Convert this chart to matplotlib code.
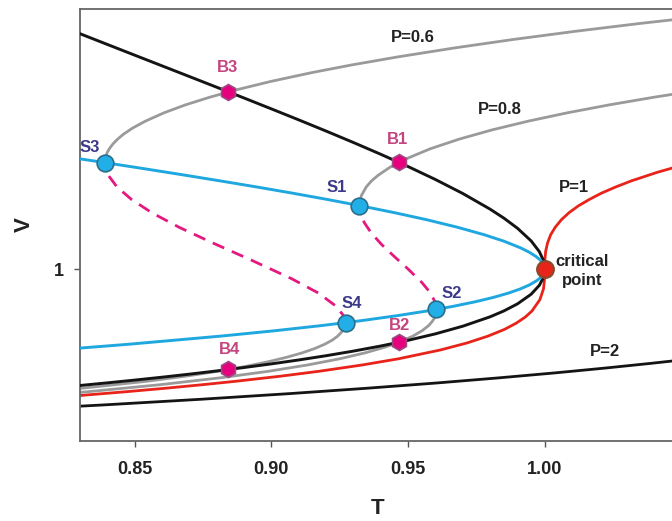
from matplotlib import pyplot as plt
from matplotlib.ticker import NullLocator
import matplotlib

matplotlib.rc('font', family=['Liberation Sans', 'DejaVu Sans'], weight='bold')

# 共存曲线 (binodal): T, 液相 V, 气相 V
bin_T = [0.82, 0.83, 0.84, 0.85, 0.86, 0.87, 0.88, 0.89, 0.90, 0.91, 0.92, 0.93, 0.94,
         0.95, 0.96, 0.97, 0.98, 0.985, 0.99, 0.995, 0.998, 0.9995, 1.0]
bin_Vl = [0.5306, 0.5377, 0.5453, 0.5534, 0.5620, 0.5712, 0.5811, 0.5918, 0.6034, 0.6161,
          0.6302, 0.6459, 0.6637, 0.6841, 0.7082, 0.7376, 0.7755, 0.8000, 0.8309, 0.8747,
          0.9173, 0.9570, 1.0]
bin_Vg = [3.7141, 3.5064, 3.3113, 3.1276, 2.9545, 2.7909, 2.6360, 2.4889, 2.3488, 2.2151,
          2.0869, 1.9634, 1.8438, 1.7271, 1.6118, 1.4960, 1.3761, 1.3123, 1.2430, 1.1618,
          1.0972, 1.0466, 1.0]

# 旋节线 (spinodal)
sp_V = [0.65, 0.67, 0.70, 0.72, 0.74, 0.76, 0.78, 0.80, 0.82, 0.84, 0.86, 0.88, 0.90,
        0.92, 0.94, 0.955, 0.97, 0.985, 1.0, 1.015, 1.03, 1.05, 1.07, 1.095, 1.12, 1.16,
        1.2, 1.25, 1.3, 1.35, 1.4, 1.45, 1.5, 1.55, 1.6, 1.65, 1.7, 1.75, 1.8]
sp_T = [0.8216, 0.8479, 0.8819, 0.9013, 0.9183, 0.9331, 0.9459, 0.9570, 0.9665, 0.9745,
        0.9812, 0.9867, 0.9911, 0.9945, 0.9970, 0.9984, 0.9993, 0.9998, 1.0, 0.9998,
        0.9994, 0.9983, 0.9967, 0.9942, 0.9911, 0.9851, 0.9780, 0.9680, 0.9570, 0.9452,
        0.9329, 0.9203, 0.9074, 0.8944, 0.8813, 0.8683, 0.8554, 0.8426, 0.8299]

# 等压线 P=0.6 (液相段 / 不稳定段 / 气相段)
p06_liq_V = [0.52, 0.55, 0.565, 0.58, 0.595, 0.61, 0.625, 0.64, 0.655, 0.67, 0.685, 0.70,
             0.72, 0.74, 0.7516]
p06_liq_T = [0.8186, 0.8545, 0.8686, 0.8804, 0.8904, 0.8987, 0.9056, 0.9113, 0.9159, 0.9195,
             0.9223, 0.9243, 0.9261, 0.9270, 0.9271]
p06_mid_V = [0.7516, 0.78, 0.82, 0.88, 0.95, 1.05, 1.15, 1.25, 1.35, 1.45, 1.55, 1.65, 1.72, 1.7635]
p06_mid_T = [0.9271, 0.9264, 0.9237, 0.9172, 0.9074, 0.8925, 0.8785, 0.8662, 0.8563, 0.8488,
             0.8435, 0.8403, 0.8393, 0.8391]
p06_gas_V = [1.7635, 1.80, 1.83, 1.87, 1.91, 1.95, 2.0, 2.05, 2.12, 2.20, 2.30, 2.40, 2.50,
             2.60, 2.72, 2.85, 2.97, 3.10, 3.25, 3.40, 3.55, 3.70, 3.90]
p06_gas_T = [0.8391, 0.8393, 0.8395, 0.8401, 0.8410, 0.8421, 0.8438, 0.8458, 0.8492, 0.8539,
             0.8607, 0.8686, 0.8775, 0.8872, 0.8999, 0.9148, 0.9295, 0.9464, 0.9669, 0.9884,
             1.0109, 1.0342, 1.0663]

# 等压线 P=0.8
p08_liq_V = [0.50, 0.52, 0.54, 0.56, 0.58, 0.60, 0.62, 0.64, 0.66, 0.68, 0.70, 0.72, 0.74,
             0.755, 0.77, 0.79, 0.8066]
p08_liq_T = [0.8000, 0.8326, 0.8593, 0.8811, 0.8989, 0.9133, 0.9250, 0.9343, 0.9417, 0.9474,
             0.9518, 0.9551, 0.9575, 0.9587, 0.9596, 0.9602, 0.9603]
p08_mid_V = [0.8066, 0.84, 0.88, 0.93, 1.00, 1.07, 1.14, 1.21, 1.28, 1.34, 1.38, 1.4028]
p08_mid_T = [0.9603, 0.9598, 0.9582, 0.9551, 0.9500, 0.9449, 0.9403, 0.9366, 0.9340, 0.9327,
             0.9323, 0.9322]
p08_gas_V = [1.4028, 1.43, 1.48, 1.55, 1.60, 1.65, 1.72, 1.80, 1.90, 2.00, 2.10, 2.20, 2.30,
             2.40, 2.50, 2.60]
p08_gas_T = [0.9322, 0.9323, 0.9329, 0.9347, 0.9366, 0.9391, 0.9433, 0.9493, 0.9582, 0.9688,
             0.9807, 0.9939, 1.0082, 1.0236, 1.0400, 1.0572]

# 等压线 P=1, P=2
p1_V = [0.50, 0.51, 0.52, 0.53, 0.54, 0.55, 0.565, 0.58, 0.60, 0.62, 0.65, 0.675, 0.70,
        0.725, 0.75, 0.775, 0.80, 0.85, 0.90, 0.95, 1.0, 1.05, 1.10, 1.15, 1.20, 1.25, 1.30,
        1.35, 1.40, 1.45, 1.50, 1.55, 1.60, 1.675, 1.75]
p1_T = [0.8125, 0.8304, 0.8466, 0.8614, 0.8748, 0.8870, 0.9033, 0.9174, 0.9333, 0.9465,
        0.9619, 0.9717, 0.9793, 0.9852, 0.9896, 0.9929, 0.9953, 0.9982, 0.9995, 0.9999, 1.0,
        1.0000, 1.0003, 1.0010, 1.0021, 1.0038, 1.0060, 1.0088, 1.0122, 1.0163, 1.0208,
        1.0260, 1.0316, 1.0411, 1.0517]
p2_V = [0.47, 0.485, 0.50, 0.515, 0.53, 0.545, 0.56, 0.575, 0.59, 0.605, 0.62]
p2_T = [0.7985, 0.8391, 0.8750, 0.9068, 0.9351, 0.9605, 0.9831, 1.0036, 1.0220, 1.0387, 1.0540]

# 特殊点
s_names = ['S1', 'S2', 'S3', 'S4']
s_T = [0.9322, 0.9603, 0.8391, 0.9271]
s_V = [1.4028, 0.8066, 1.7635, 0.7516]
b_names = ['B1', 'B2', 'B3', 'B4']
b_T = [0.9466, 0.9466, 0.8843, 0.8843]
b_V = [1.7663, 0.6769, 2.5712, 0.5856]
x_ticks = [0.85, 0.90, 0.95, 1.00]
x_labels = ['0.85', '0.90', '0.95', '1.00']

W, H = 672, 521
fig = plt.figure(figsize=(W / 100, H / 100), dpi=100)
ax = fig.add_axes([80 / W, 80 / H, 592 / W, 432 / H])

gray = '#9a9a9a'
black = '#141414'
cyan = '#1fa7e0'
magenta = '#e3197f'
red = '#e8231a'

line_kw = dict(solid_joinstyle='round', solid_capstyle='round')
ax.plot(p2_T, p2_V, color=black, lw=2, zorder=2, **line_kw)
ax.plot(p1_T, p1_V, color=red, lw=2, zorder=2, **line_kw)
for tt, vv in [(p06_liq_T, p06_liq_V), (p06_gas_T, p06_gas_V),
               (p08_liq_T, p08_liq_V), (p08_gas_T, p08_gas_V)]:
    ax.plot(tt, vv, color=gray, lw=2, zorder=2, **line_kw)
for tt, vv in [(p06_mid_T, p06_mid_V), (p08_mid_T, p08_mid_V)]:
    ax.plot(tt, vv, color=magenta, lw=2, dashes=(4.5, 3), zorder=2)

ax.plot(bin_T + bin_T[::-1], bin_Vl + bin_Vg[::-1], color=black, lw=2.1, zorder=3, **line_kw)
ax.plot(sp_T, sp_V, color=cyan, lw=2.1, zorder=3, **line_kw)

ax.plot(s_T, s_V, 'o', ms=12, mfc='#22aee6', mec='#2c6f8c', mew=1.2, zorder=5)
ax.plot(b_T, b_V, 'h', ms=11.5, mfc='#e6007e', mec='#9b4b82', mew=1.2, zorder=5)
ax.plot([1.0], [1.0], 'o', ms=12, mfc=red, mec='#8a4a2a', mew=1.6, zorder=6)

ax.set_yscale('log')
ax.set_xlim(0.83, 1.0465)
ax.set_ylim(0.4, 4.0)
ax.set_xticks(x_ticks)
ax.set_xticklabels(x_labels)
ax.set_yticks([1])
ax.set_yticklabels(['1'])
ax.yaxis.set_minor_locator(NullLocator())
ax.tick_params(axis='both', direction='out', length=4.5, width=1, color='#555555',
               labelsize=13, labelcolor='#222222')
ax.tick_params(axis='x', pad=10)
ax.tick_params(axis='y', pad=7)
for s in ['left', 'bottom', 'top']:
    ax.spines[s].set_color('#666666')
    ax.spines[s].set_linewidth(1.3)
ax.spines['right'].set_visible(False)


def ptext(x, y, s, color='#222222', size=12, **kw):
    fig.text(x / W, 1 - y / H, s, color=color, fontsize=size, fontweight='bold',
             ha='center', va='center', **kw)


s_pos = [(337, 188), (452, 293), (90, 147), (352, 304)]
b_pos = [(398, 140), (400, 325), (228, 68), (229, 350)]
for name, (x, y) in zip(s_names, s_pos):
    ptext(x, y, name, color='#3d3a8a')
for name, (x, y) in zip(b_names, b_pos):
    ptext(x, y, name, color='#c4457f')

ptext(413, 37, 'P=0.6')
ptext(500, 109, 'P=0.8')
ptext(574, 187, 'P=1')
ptext(605, 351, 'P=2')
ptext(582, 271, 'critical\npoint', linespacing=1.25)

ptext(378, 508, 'T', size=16)
ptext(24, 225, 'V', size=16, rotation=90)

plt.savefig('out.png', dpi=100)
